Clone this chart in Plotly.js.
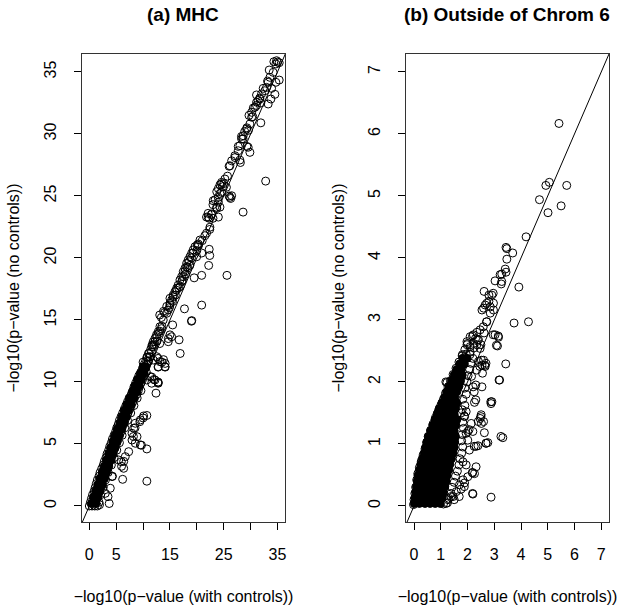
<!DOCTYPE html>
<html>
<head>
<meta charset="utf-8">
<script src="https://cdn.plot.ly/plotly-3.0.1.min.js"></script>
<style>html,body{margin:0;padding:0;background:#fff;}#chart{width:626px;height:609px;}</style>
</head>
<body>
<div id="chart"></div>
<script>
// ---------- Data ----------
// Panel (a) MHC: dense band, rows of [noControls, withControls...]
const mhcBandRows = [
  [0.0, 0.0, 0.5, 1.0, 1.5], [0.3, 0.2, 0.7, 1.2, 1.8], [0.6, 0.4, 0.9, 1.4],
  [0.9, 0.6, 1.1, 1.6, 2.1], [1.2, 0.9, 1.4, 1.9], [1.5, 1.1, 1.6, 2.1, 2.6],
  [1.8, 1.3, 1.8, 2.3], [2.1, 1.5, 2.0, 2.5, 3.0], [2.4, 1.8, 2.3, 2.8],
  [2.7, 2.0, 2.5, 3.0, 3.5], [3.0, 2.3, 2.8, 3.3], [3.3, 2.6, 3.1, 3.6, 4.1],
  [3.6, 2.8, 3.3, 3.8], [3.9, 3.1, 3.6, 4.1, 4.6], [4.2, 3.3, 3.8, 4.3],
  [4.5, 3.6, 4.1, 4.6, 5.1], [4.8, 3.8, 4.3, 4.8], [5.1, 4.1, 4.6, 5.1, 5.6],
  [5.4, 4.3, 4.8, 5.3], [5.7, 4.6, 5.1, 5.6, 6.1], [6.0, 4.9, 5.4, 5.9],
  [6.3, 5.1, 5.6, 6.1, 6.6], [6.6, 5.4, 5.9, 6.4], [6.9, 5.6, 6.1, 6.6, 7.1],
  [7.2, 5.9, 6.4, 6.9], [7.5, 6.2, 6.7, 7.2, 7.7], [7.8, 6.5, 7.0, 7.5],
  [8.1, 6.8, 7.3, 7.8, 8.3], [8.4, 7.1, 7.6, 8.1], [8.7, 7.4, 7.9, 8.4, 8.9],
  [9.0, 7.8, 8.3, 8.8], [9.3, 8.1, 8.6, 9.1, 9.6], [9.6, 8.3, 8.8, 9.3],
  [9.9, 8.6, 9.1, 9.6], [10.2, 8.9, 9.4, 9.9], [10.5, 9.2, 9.7, 10.2],
  [10.8, 9.6, 10.1, 10.6], [11.1, 9.9, 10.4], [11.4, 10.2, 10.7],
  [11.7, 10.5, 11.0], [12.0, 10.8, 11.3], [12.3, 11.1], [12.6, 11.4], [13.0, 11.7]
];
// Panel (a) MHC: darkest part of the band (overplotted core), rows [noControls, withControls...]
const mhcCoreRows = [
  [0.2, 0.4, 1.2], [0.7, 0.8, 1.6], [1.2, 1.2, 2.0], [1.7, 1.6, 2.4], [2.2, 2.0, 2.8],
  [2.7, 2.4, 3.2], [3.2, 2.8, 3.6], [3.7, 3.2, 4.0], [4.2, 3.6, 4.4], [4.7, 4.0, 4.8],
  [5.2, 4.4, 5.2], [5.7, 4.8, 5.6], [6.2, 5.2, 6.0], [6.7, 5.7, 6.5], [7.2, 6.1, 6.9],
  [7.7, 6.5, 7.3], [8.2, 7.0, 7.8], [8.7, 7.5, 8.3], [9.2, 8.0, 8.8], [9.7, 8.5, 9.3],
  [10.2, 9.0, 9.7], [10.7, 9.5, 10.1], [11.2, 10.0, 10.5]
];
// Panel (a) MHC: individual points [withControls, noControls]
const mhcPoints = [
  [34.83,35.91],[34.33,35.83],[35.32,35.75],[34.70,35.65],[35.0,35.8],[33.46,35.16],[35.32,34.35],[33.16,34.27],
  [34.52,33.2],[32.34,33.68],[33.9,33.68],[31.1,33.15],[31.7,32.9],[31.4,32.7],[31.9,32.5],[31.1,32.3],[30.5,32.1],
  [31.9,30.9],[29.7,31.5],[30.4,31.4],[29.3,30.5],[29.6,30.3],[28.9,30.2],[28.3,29.8],[28.6,29.6],[29.3,29.0],
  [27.7,29.0],[28.0,27.9],[28.1,27.7],[27.1,28.1],[26.0,27.4],[25.7,26.6],[32.8,26.2],[24.6,26.1],[24.3,25.9],
  [24.8,25.75],[24.0,25.6],[23.7,25.35],[24.3,25.2],[26.0,25.0],[26.3,24.8],[23.4,24.7],[24.0,24.5],[23.0,24.3],
  [23.7,24.0],[24.3,24.1],[28.6,23.7],[22.1,23.6],[22.7,23.5],[22.3,23.2],[21.8,23.3],[23.0,23.2],[24.0,23.3],
  [22.4,22.3],[20.3,21.0],[20.0,20.6],[19.3,20.4],[19.0,20.0],[18.6,19.7],[20.9,20.4],[22.3,20.7],[22.4,20.2],
  [22.2,19.4],[20.9,18.6],[19.5,18.4],[25.6,18.6],[18.1,19.3],[17.8,18.9],[17.5,18.5],[17.2,18.1],[16.9,17.7],
  [16.2,17.4],[15.6,17.0],[15.0,16.75],[18.7,19.4],
  [20.9,16.2],[17.7,15.9],[19.0,14.9],[19.05,14.95],[14.4,16.1],[15.0,16.35],[13.8,15.7],[13.1,15.4],[15.5,14.6],
  [15.0,13.8],[15.3,13.65],[14.7,13.5],[16.7,13.4],[16.9,12.3],[13.5,14.5],[13.1,14.1],[12.5,13.8],[12.2,13.5],
  [11.9,13.25],[11.6,12.85],[11.0,12.3],[10.7,12.0],[10.0,11.6],[13.1,13.1],[12.8,11.9],[13.8,11.8],[14.1,11.2],
  [13.5,11.6],[12.8,11.2],[14.1,11.5],[11.6,10.4],[12.0,10.2],[12.8,10.0],[12.4,9.1],[10.7,7.3],[10.0,7.1],
  [9.4,6.8],[10.7,4.6],[9.7,4.9],[10.7,2.0],[8.5,6.3],[8.2,5.6],[6.4,3.6],[6.0,3.2],[6.2,2.15],[4.3,2.4],[3.7,0.2],[1.9,0.1],
  [8.49,9.62],[9.11,10.03],[9.42,10.43],[10.04,10.83],[10.35,11.23],[10.97,11.64],[11.28,12.04],[11.6,12.44],
  [11.9,12.85],[12.21,13.25],[12.53,13.65],[12.83,14.06],[13.14,14.46],[13.75,15.0],[14.39,15.54],[14.68,15.81],
  [15.0,16.21],[15.32,16.61],[15.61,16.88],[15.93,17.28],[16.25,17.56],[16.54,17.82],[16.86,18.23],[17.17,18.49],
  [17.47,18.89],[17.79,19.17],[18.1,19.57],[18.4,19.84],[18.72,20.1],[19.03,20.38],[19.33,20.65],[19.65,20.91],
  [20.07,21.05],[20.58,21.45],[14.68,13.25],[12.53,12.04],[13.14,11.64],[11.9,11.77],[12.83,11.23],[14.07,11.23],
  [11.28,10.43],[10.67,10.16],[11.6,9.9],[12.21,10.16],[12.83,9.9],[19.96,20.1],
  [13.4,15.2],[14.0,15.6],[14.9,16.0],[15.5,16.5],[16.0,17.0],[16.6,17.6],[17.3,18.2],[17.9,18.7],[18.3,19.2],
  [12.0,13.0],[12.6,13.3],[12.9,13.9],[13.4,14.3],
  [20.26,21.13],[21.5,21.8],[22.43,22.48],[22.12,23.28],[22.75,23.55],[23.68,24.09],[23.05,24.62],[23.98,24.89],
  [24.6,25.3],[24.6,25.97],[25.22,26.37],[26.15,27.44],[26.47,27.84],[27.08,28.25],[27.7,28.65],[28.01,29.06],
  [28.33,29.6],[28.62,29.86],[29.26,30.4],[29.87,30.81],[30.19,31.35],[30.19,31.75],[30.8,32.15],[31.11,32.56],
  [31.73,32.82],[32.04,33.23],[32.66,33.49],[32.97,33.76],[33.27,34.17],[33.59,34.57],[34.2,34.97],[34.7,34.17],
  [33.77,32.82],[33.27,32.42],[29.87,28.52],[29.55,28.93],[26.15,24.89],[26.47,25.02],[25.0,26.0],[25.5,25.7],
  [21.0,21.4],[21.8,22.0],
  [12.77,9.94],[10.1,7.26],[9.49,6.94],[8.55,6.67],[8.25,6.27],[9.49,4.92],[8.55,5.06],[7.94,5.32],[8.87,5.59],
  [7.94,5.86],[6.39,3.04],[5.95,3.57],[5.46,3.71],[4.22,2.37],[3.9,1.43],[3.48,0.75],[2.97,1.02],[6.69,3.98],[7.32,4.38]
];
// Panel (b) Outside of Chrom 6: dense core rows [noControls, withControls...]
const chr6CoreRows = [
  [0.04, 0.01, 0.2, 0.41, 0.6, 0.79, 0.98], [0.13, 0.03, 0.23, 0.44, 0.65, 0.85, 1.05],
  [0.22, 0.06, 0.27, 0.48, 0.69, 0.9, 1.1], [0.31, 0.09, 0.3, 0.52, 0.73, 0.95, 1.15],
  [0.40, 0.12, 0.33, 0.55, 0.77, 0.99, 1.2], [0.49, 0.15, 0.37, 0.59, 0.81, 1.03, 1.24],
  [0.58, 0.2, 0.42, 0.64, 0.86, 1.08, 1.3], [0.67, 0.25, 0.47, 0.69, 0.91, 1.13, 1.34],
  [0.76, 0.31, 0.53, 0.75, 0.97, 1.19, 1.4], [0.85, 0.38, 0.6, 0.82, 1.04, 1.26, 1.46],
  [0.94, 0.43, 0.65, 0.87, 1.09, 1.31, 1.5], [1.03, 0.48, 0.7, 0.92, 1.14, 1.36, 1.52],
  [1.12, 0.54, 0.76, 0.98, 1.2, 1.42, 1.55], [1.21, 0.62, 0.84, 1.06, 1.28, 1.5],
  [1.30, 0.7, 0.92, 1.14, 1.36, 1.56], [1.39, 0.78, 1.0, 1.22, 1.44, 1.6],
  [1.48, 0.86, 1.08, 1.3, 1.5], [1.57, 0.94, 1.16, 1.38, 1.55], [1.66, 1.04, 1.25, 1.45, 1.6],
  [1.75, 1.14, 1.34, 1.52], [1.84, 1.22, 1.42, 1.6], [1.93, 1.31, 1.5, 1.68],
  [2.02, 1.4, 1.58, 1.74], [2.11, 1.5, 1.67, 1.8], [2.20, 1.6, 1.77], [2.29, 1.71, 1.88], [2.38, 1.82, 1.98]
];
// Panel (b): individual points [withControls, noControls]
const chr6Points = [
  [-0.02,0.02],[0.0,0.1],[0.03,0.2],[0.06,0.3],[0.1,0.42],[0.14,0.52],[0.2,0.62],[0.27,0.72],[0.34,0.82],[0.41,0.92],
  [0.47,1.02],[0.53,1.12],[0.62,1.22],[0.71,1.32],[0.8,1.42],[0.9,1.52],[1.0,1.62],[1.1,1.72],[1.18,1.82],[1.27,1.92],
  [1.36,2.02],[1.46,2.12],[1.57,2.22],[1.68,2.32],[1.8,2.42],[1.9,2.52],[1.98,2.6],
  [1.1,0.03],[1.25,0.05],[1.3,0.12],[1.38,0.2],[1.42,0.3],[1.5,0.38],[1.55,0.48],[1.62,0.56],[1.68,0.66],[1.72,0.76],
  [1.78,0.85],[1.82,0.95],[1.78,1.05],[1.8,1.15],[1.85,1.25],[1.82,1.35],[1.88,1.45],[1.8,1.55],[1.9,1.62],[1.82,1.72],
  [1.95,1.8],[1.9,1.9],[1.98,2.0],[2.02,2.1],[2.08,2.2],[2.12,2.3],[2.2,2.38],[2.1,2.48],[2.25,2.55],[2.3,2.7],[1.95,2.45],
  [5.42,6.17],[4.93,5.17],[5.06,5.22],[5.71,5.17],[4.69,4.94],[5.50,4.84],[5.01,4.73],[4.19,4.34],[3.44,4.17],[3.47,4.15],
  [3.69,4.08],[3.47,3.98],[3.41,3.82],[3.44,3.77],[3.28,3.74],[3.03,3.63],[3.28,3.62],[3.92,3.53],[2.62,3.46],[2.8,3.4],
  [2.96,3.43],[3.22,3.73],[3.26,3.58],[2.91,3.4],[2.72,3.27],[2.6,3.19],[2.54,3.16],[2.85,3.21],[2.97,3.27],[2.66,3.24],
  [2.85,3.11],[2.97,3.16],[3.74,2.95],[4.28,2.97],[2.72,2.97],[2.47,2.84],[2.35,2.8],[2.22,2.76],[3.03,2.76],[3.16,2.72],
  [3.12,2.58],[2.1,2.73],[1.98,2.65],[2.22,2.62],[2.1,2.57],[2.35,2.6],[2.41,2.68],[2.47,2.54],[3.43,2.29],[3.18,2.03],
  [2.91,1.68],[2.88,1.65],[2.54,1.92],[2.66,2.25],[2.54,2.27],[2.41,2.33],[2.6,2.35],[1.23,1.99],[2.26,1.67],[2.51,1.47],
  [2.47,1.41],[2.6,1.36],[2.14,1.33],[2.2,1.2],[2.01,1.2],[2.63,1.18],[3.32,1.1],[2.7,1.01],[2.76,1.02],[2.32,0.96],
  [2.39,0.97],[2.07,0.9],[2.32,0.63],[2.18,0.54],[2.26,0.52],[2.01,0.47],[2.2,0.19],[2.88,0.14],[1.76,0.27],[1.7,0.34],
  [1.58,0.23],[1.89,0.37],[1.27,0.1],[1.2,0.04],[1.46,0.15],[1.83,0.42],[1.83,0.71],[1.95,0.66],[1.95,1.17],[2.01,1.06],
  [1.76,1.5],[1.95,1.52],[1.89,1.44],[3.08,2.59],[3.15,2.74],[2.96,2.76],[2.71,2.97],[2.59,2.89],[2.52,1.33],[2.4,1.36],
  [2.31,1.95],[2.21,1.92],[2.15,2.09],[2.34,2.19],[2.46,2.25],[2.52,2.35],[2.65,2.27],[2.09,2.44],[2.8,3.3],[2.19,2.74],
  [2.62,2.79],[2.5,2.6],[2.69,2.3],[2.56,2.14],[2.25,1.84],[2.31,1.71],[2.5,1.44],[2.06,1.23],[2.25,0.96],[2.69,1.01],
  [2.19,0.53],[1.88,0.31],[2.19,0.2],[3.2,2.03],[2.87,1.68],[3.25,1.12],[1.19,2.0],[1.63,2.14],[1.81,2.44],[2.0,2.62],
  [2.37,2.68],[1.5,0.1],[1.69,0.15],[1.38,0.15]
];
// Reference line y = x (abline), and axis ticks
const abline = [-5, 50];
const mhcTicks = [0, 5, 10, 15, 20, 25, 30, 35];
const mhcTickText = ['0', '5', '', '15', '', '25', '', '35'];
const mhcYTickText = ['0', '5', '10', '15', '20', '25', '30', '35'];
const chr6Ticks = [0, 1, 2, 3, 4, 5, 6, 7];
const chr6TickText = ['0', '1', '2', '3', '4', '5', '6', '7'];
const xTitle = '\u2212log10(p\u2212value (with controls))';
const yTitle = '\u2212log10(p\u2212value (no controls))';

// ---------- Build traces ----------
function fromRows(rows) {
  const x = [], y = [];
  rows.forEach(r => { for (let i = 1; i < r.length; i++) { x.push(r[i]); y.push(r[0]); } });
  return {x, y};
}
function fromPairs(p) { return {x: p.map(d => d[0]), y: p.map(d => d[1])}; }

const openMarker = {symbol: 'circle-open', size: 8, color: '#000', line: {width: 1, color: '#000'}};
const filledMarker = {symbol: 'circle', size: 8, color: '#000', line: {width: 1, color: '#000'}};
const band = fromRows(mhcBandRows), mcore = fromRows(mhcCoreRows), mhc = fromPairs(mhcPoints);
const core = fromRows(chr6CoreRows), chr6 = fromPairs(chr6Points);

const traces = [
  {type: 'scatter', mode: 'markers', x: mcore.x, y: mcore.y, xaxis: 'x', yaxis: 'y', marker: filledMarker, hoverinfo: 'skip'},
  {type: 'scatter', mode: 'markers', x: band.x, y: band.y, xaxis: 'x', yaxis: 'y', marker: openMarker, hoverinfo: 'skip'},
  {type: 'scatter', mode: 'markers', x: mhc.x, y: mhc.y, xaxis: 'x', yaxis: 'y', marker: openMarker},
  {type: 'scatter', mode: 'lines', x: abline, y: abline, xaxis: 'x', yaxis: 'y', line: {color: '#000', width: 1}},
  {type: 'scatter', mode: 'markers', x: core.x, y: core.y, xaxis: 'x2', yaxis: 'y2', marker: filledMarker, hoverinfo: 'skip'},
  {type: 'scatter', mode: 'markers', x: chr6.x, y: chr6.y, xaxis: 'x2', yaxis: 'y2', marker: openMarker},
  {type: 'scatter', mode: 'lines', x: abline, y: abline, xaxis: 'x2', yaxis: 'y2', line: {color: '#000', width: 1}}
];

const FONT = 'Liberation Sans, Arial, Helvetica, sans-serif';
const axisCommon = {
  ticks: 'outside', ticklen: 7, tickwidth: 1, tickcolor: '#000',
  showline: true, mirror: true, linecolor: '#333', linewidth: 1,
  showgrid: false, zeroline: false, tickfont: {size: 16, color: '#000'},
  tickmode: 'array', fixedrange: true
};
const xa = Object.assign({}, axisCommon, {ticklabelstandoff: 11, title: {text: xTitle, font: {size: 16}, standoff: 28}});
const ya = Object.assign({}, axisCommon, {tickangle: -90, ticklabelstandoff: 12, title: {text: yTitle, font: {size: 16}, standoff: 17}});

const layout = {
  width: 626, height: 609,
  margin: {l: 0, r: 0, t: 0, b: 0},
  paper_bgcolor: '#fff', plot_bgcolor: '#fff',
  showlegend: false,
  font: {family: FONT, size: 16, color: '#000'},
  xaxis: Object.assign({}, xa, {domain: [0.1310, 0.4553], range: [-1.36, 36.4], tickvals: mhcTicks, ticktext: mhcTickText, anchor: 'y'}),
  yaxis: Object.assign({}, ya, {domain: [0.1429, 0.9113], range: [-1.29, 36.45], tickvals: mhcTicks, ticktext: mhcYTickText, anchor: 'x'}),
  xaxis2: Object.assign({}, xa, {domain: [0.6486, 0.9728], range: [-0.3, 7.29], tickvals: chr6Ticks, ticktext: chr6TickText, anchor: 'y2'}),
  yaxis2: Object.assign({}, ya, {domain: [0.1429, 0.9113], range: [-0.26, 7.29], tickvals: chr6Ticks, ticktext: chr6TickText, anchor: 'x2'}),
  annotations: [
    {text: '<b>(a) MHC</b>', xref: 'paper', yref: 'paper', x: 0.2931, y: 0.9754, xanchor: 'center', yanchor: 'middle', showarrow: false, font: {size: 19, color: '#000'}},
    {text: '<b>(b) Outside of Chrom 6</b>', xref: 'paper', yref: 'paper', x: 0.8107, y: 0.9754, xanchor: 'center', yanchor: 'middle', showarrow: false, font: {size: 19, color: '#000'}}
  ]
};

Plotly.newPlot('chart', traces, layout, {displayModeBar: false, staticPlot: true});
</script>
</body>
</html>
